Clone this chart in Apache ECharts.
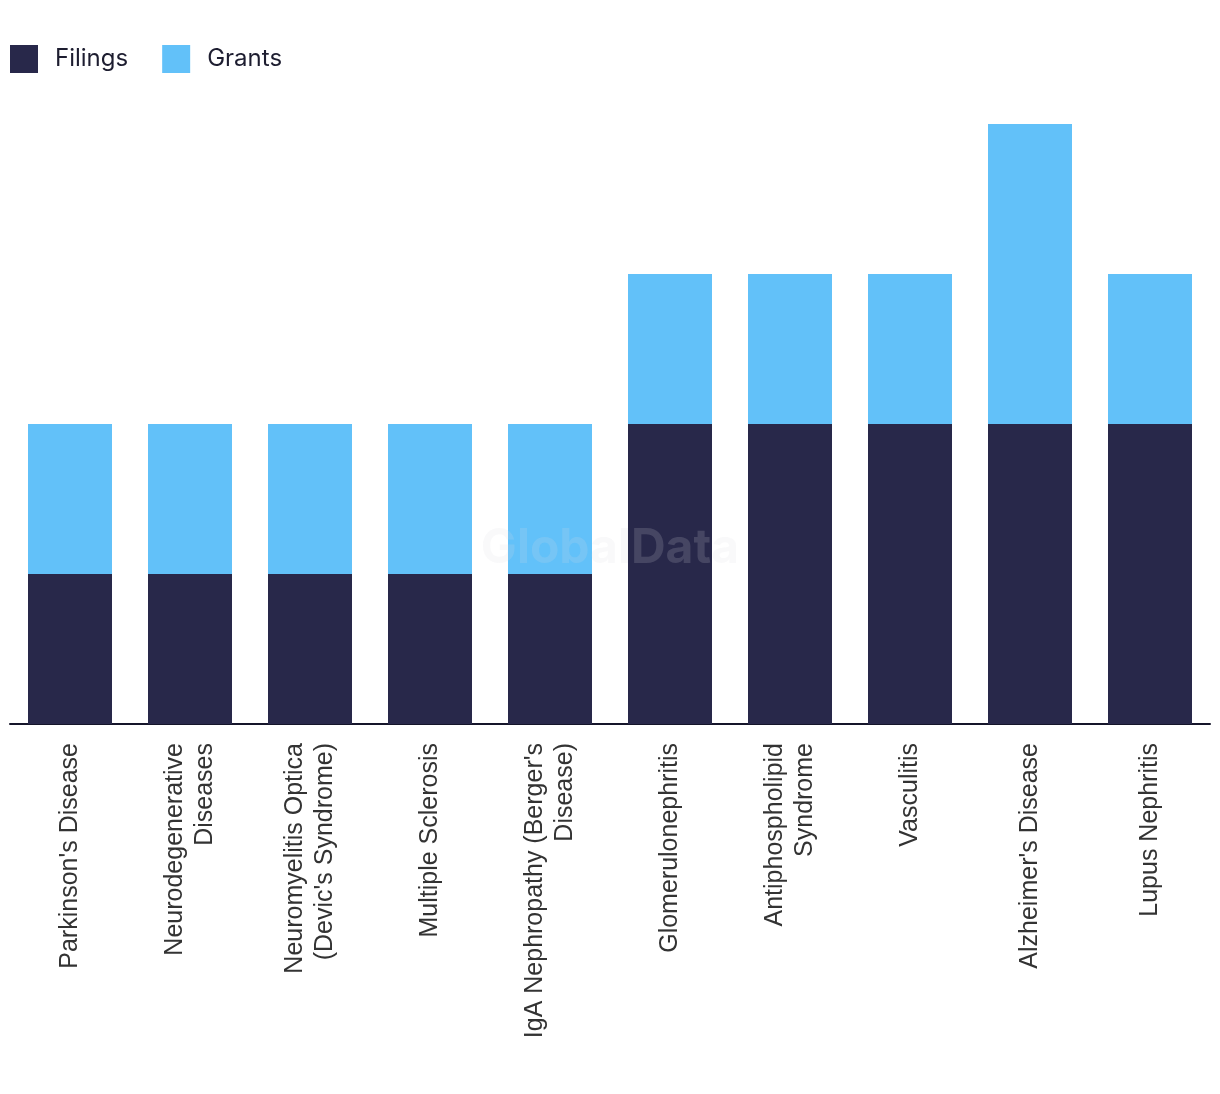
<!DOCTYPE html>
<html>
<head>
<meta charset="utf-8">
<script src="https://cdn.jsdelivr.net/npm/echarts@6/dist/echarts.min.js"></script>
<style>
html,body{margin:0;padding:0;background:#fff;}
#chart{width:1220px;height:1094px;}
</style>
</head>
<body>
<div id="chart"></div>
<script>
const categories = [
  "Parkinson's Disease",
  "Neurodegenerative\nDiseases",
  "Neuromyelitis Optica\n(Devic's Syndrome)",
  "Multiple Sclerosis",
  "IgA Nephropathy (Berger's\nDisease)",
  "Glomerulonephritis",
  "Antiphospholipid\nSyndrome",
  "Vasculitis",
  "Alzheimer's Disease",
  "Lupus Nephritis"
];
const filings = [1, 1, 1, 1, 1, 2, 2, 2, 2, 2];
const grants  = [1, 1, 1, 1, 1, 1, 1, 1, 2, 1];

const chart = echarts.init(document.getElementById('chart'), null, {renderer: 'canvas'});
chart.setOption({
  animation: false,
  legend: {
    left: 5,
    top: 40,
    itemWidth: 28,
    itemHeight: 28,
    itemGap: 34,
    icon: 'rect',
    textStyle: {fontFamily: 'Inter', fontSize: 24, color: '#1d1d30', padding: [0, 0, 0, 12]},
    data: ['Filings', 'Grants']
  },
  grid: {left: 10, right: 10, top: 124, bottom: 370, containLabel: false},
  xAxis: {
    type: 'category',
    data: categories,
    axisLine: {show: true, lineStyle: {color: '#15152a', width: 2}},
    axisTick: {show: false},
    axisLabel: {
      rotate: 90,
      interval: 0,
      margin: 19,
      fontFamily: 'Liberation Sans',
      fontSize: 25,
      lineHeight: 30,
      color: '#333333'
    }
  },
  yAxis: {
    type: 'value',
    min: 0,
    max: 4,
    interval: 1,
    show: false,
    splitLine: {show: false}
  },
  series: [
    {name: 'Filings', type: 'bar', stack: 'total', data: filings, barWidth: '70%',
     itemStyle: {color: '#28284a'}},
    {name: 'Grants', type: 'bar', stack: 'total', data: grants, barWidth: '70%',
     itemStyle: {color: '#62c1f9'}}
  ],
  graphic: [{
    type: 'text',
    x: 610,
    y: 549,
    z: 100,
    style: {
      text: 'GlobalData',
      font: 'bold 48px Inter',
      align: 'center',
      verticalAlign: 'middle',
      fill: 'rgba(220,220,225,0.17)'
    }
  }]
});
</script>
</body>
</html>
